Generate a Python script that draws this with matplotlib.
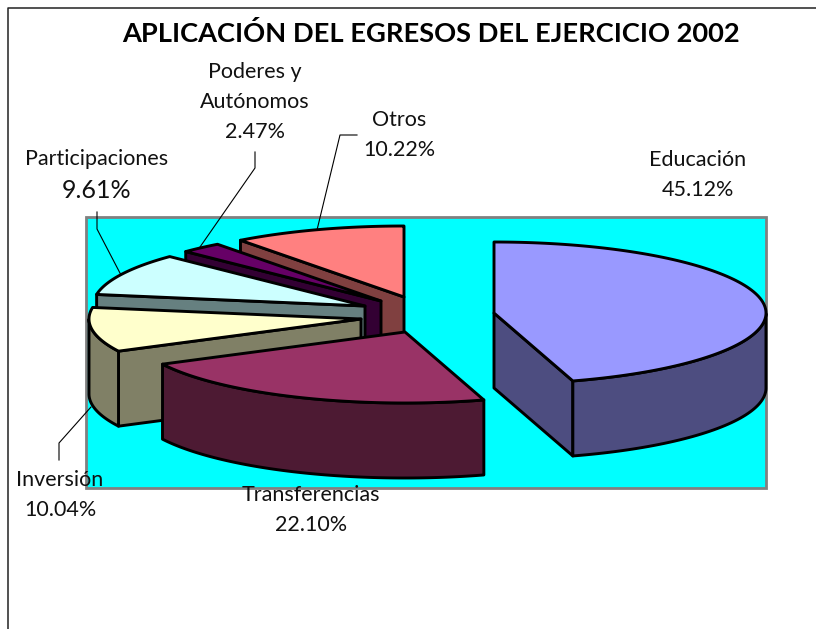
import numpy as np
import matplotlib
matplotlib.use("Agg")
import matplotlib.pyplot as plt
from matplotlib.patches import Polygon, Rectangle

plt.rcParams['font.family'] = ['Lato', 'DejaVu Sans']

title = "APLICACIÓN DEL EGRESOS DEL EJERCICIO 2002"
names = ["Educación", "Transferencias", "Inversión", "Participaciones", "Poderes y\nAutónomos", "Otros"]
values = [45.12, 22.10, 10.04, 9.61, 2.47, 10.22]

top_colors = ["#9999FF", "#993366", "#FFFFCC", "#CCFFFF", "#660066", "#FF8080"]
side_colors = ["#4D4D80", "#4D1A33", "#808066", "#668080", "#330033", "#804040"]

# layout, in pixels of the 816x629 picture
apex = [(494, 313), (405, 332), (361, 319), (365, 306), (381, 301), (404, 297)]
rx, ry, depth = 272, 71, 75
label_pos = [(698, 160), (311, 495), (60, 480), (97, 159), (255, 72), (399, 120)]
leaders = [None, None,
           [(59, 460), (59, 443), (91, 407)],
           [(97, 212), (97, 229), (121, 275)],
           [(255, 152), (255, 168), (200, 247)],
           [(357, 135), (340, 135), (317, 230)]]

fig = plt.figure(figsize=(8.16, 6.29), dpi=100)
ax = fig.add_axes([0, 0, 1, 1])
ax.set_xlim(0, 816)
ax.set_ylim(629, 0)
ax.axis("off")

# chart frame, only top and left are inside the picture
ax.plot([8, 8, 816], [629, 8, 8], color="#222222", lw=1.1, zorder=1)
ax.add_patch(Rectangle((86, 217), 680, 271, fc="#00FFFF", ec="#808080", lw=2, zorder=1))

for pts in leaders:
    if pts is not None:
        ax.plot(*zip(*pts), color="black", lw=0.8, zorder=2)

edges = np.cumsum([0] + values) / sum(values) * 2 * np.pi
z = 3


def arc(a, b, c):
    t = np.linspace(a, b, 120)
    return np.column_stack([c[0] + rx * np.sin(t), c[1] - ry * np.cos(t)])


# back slices first, Educacion goes last because it is in front of nothing else
for i in [5, 4, 3, 2, 1, 0]:
    c = np.array(apex[i], dtype=float)
    rim = arc(edges[i], edges[i + 1], c)
    down = np.array([0, depth])
    mid = rim[len(rim) // 2]

    # the two cut faces, only if they look towards the viewer
    for p in [rim[0], rim[-1]]:
        d = p - c
        n = np.array([-d[1], d[0]])
        if np.dot(n, mid - c) > 0:
            n = -n
        if n[1] > 0:
            ax.add_patch(Polygon([c, p, p + down, c + down], fc=side_colors[i], ec="black",
                                 lw=2.1, joinstyle="round", zorder=z))
            z += 1

    # outer curved wall, lower half of the ellipse only
    t = np.linspace(edges[i], edges[i + 1], 120)
    front = arc(edges[i], edges[i + 1], c)[(t > np.pi / 2) & (t < 3 * np.pi / 2)]
    if len(front) > 1:
        ax.add_patch(Polygon(np.vstack([front, front[::-1] + down]), fc=side_colors[i], ec="black",
                             lw=2.1, joinstyle="round", zorder=z))
        z += 1

    ax.add_patch(Polygon(np.vstack([[c], rim]), fc=top_colors[i], ec="black",
                         lw=2.1, joinstyle="round", zorder=z))
    z += 1

ax.text(431, 33, title, ha="center", va="center", fontsize=19.6, fontweight="bold",
        color="black", zorder=50)

for i in range(len(names)):
    x, y = label_pos[i]
    lines = names[i].split("\n")
    for line in lines:
        ax.text(x, y, line, ha="center", va="center", fontsize=15.5, color="#111111", zorder=50)
        y += 30
    # the Participaciones percentage is bigger in the original
    size = 18 if names[i] == "Participaciones" else 15.5
    ax.text(x, y + (2 if size == 18 else 0), f"{values[i]:.2f}%", ha="center", va="center",
            fontsize=size, color="#111111", zorder=50)

fig.savefig("out.png", dpi=100)
